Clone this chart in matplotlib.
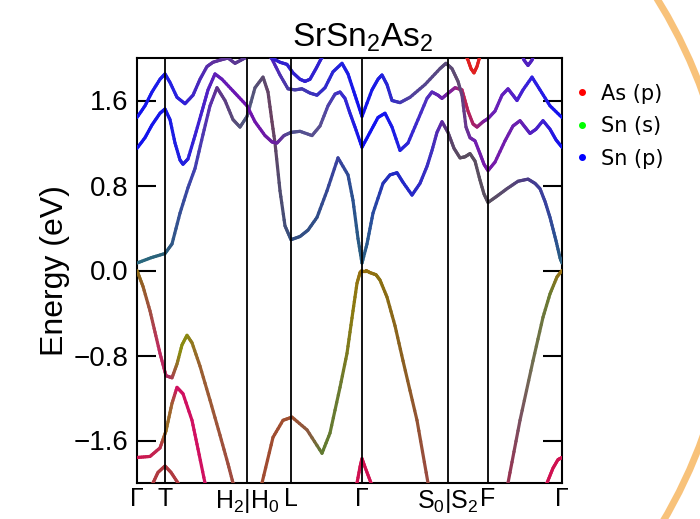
import numpy as np
import matplotlib.pyplot as plt
from matplotlib.collections import LineCollection
from matplotlib.colors import to_rgb
from matplotlib.lines import Line2D
from matplotlib.patches import Circle
from matplotlib.transforms import IdentityTransform

plt.rcParams['font.family'] = ['Liberation Sans', 'DejaVu Sans']
plt.rcParams['mathtext.fontset'] = 'custom'
plt.rcParams['mathtext.rm'] = 'Liberation Sans'
plt.rcParams['mathtext.it'] = 'Liberation Sans:italic'

# high symmetry points along the k-path
kpt_pos = [0.00, 0.28, 1.10, 1.54, 2.25, 3.11, 3.51, 4.25]
kpt_labels = ['Γ', 'T', 'H$_2$|H$_0$', 'L', 'Γ', 'S$_0$|S$_2$', 'F', 'Γ']

# conduction bands (k, E), plus colour stops (k, colour)
cb1_k = [0.00, 0.14, 0.28, 0.35, 0.43, 0.51, 0.58, 0.66, 0.73, 0.80, 0.88, 0.96, 1.03, 1.10, 1.18,
         1.26, 1.31, 1.35, 1.38, 1.43, 1.48, 1.54, 1.63, 1.71, 1.80, 1.90, 2.01, 2.11, 2.16, 2.21, 2.25,
         2.30, 2.36, 2.46, 2.53, 2.60, 2.66, 2.75, 2.83, 2.90, 2.95, 3.00, 3.05, 3.11, 3.17, 3.23, 3.28,
         3.33, 3.38, 3.43, 3.47, 3.51, 3.60, 3.70, 3.81, 3.91, 3.98, 4.03, 4.08, 4.13, 4.19, 4.23, 4.25]
cb1_e = [0.07, 0.12, 0.16, 0.25, 0.54, 0.78, 0.96, 1.28, 1.55, 1.72, 1.60, 1.42, 1.35, 1.45, 1.72,
         1.82, 1.68, 1.40, 1.20, 0.75, 0.42, 0.29, 0.32, 0.38, 0.50, 0.75, 1.06, 0.90, 0.66, 0.30, 0.07,
         0.25, 0.54, 0.82, 0.90, 0.92, 0.83, 0.71, 0.82, 0.98, 1.13, 1.30, 1.40, 1.30, 1.15, 1.06, 1.07,
         1.10, 1.03, 0.85, 0.72, 0.64, 0.70, 0.77, 0.84, 0.86, 0.82, 0.77, 0.65, 0.50, 0.28, 0.12, 0.07]
cb1_ck = [0.00, 0.28, 0.43, 0.58, 0.73, 0.80, 0.96, 1.10, 1.26, 1.35, 1.43, 1.54, 1.80, 2.01, 2.16,
          2.25, 2.30, 2.46, 2.60, 2.75, 2.95, 3.05, 3.11, 3.23, 3.51, 3.70, 3.91, 4.08, 4.19, 4.25]
cb1_cc = ['#2a6a80', '#2a6078', '#354f95', '#4040b0', '#5a30b0', '#603090', '#5a4a78', '#505a80',
          '#5a4a70', '#6a4060', '#504c70', '#355080', '#304e88', '#3a40a0', '#2a5090',
          '#2a6080', '#2a5a90', '#2535b5', '#2028c8', '#2528c8', '#4030c0', '#6028a8', '#5a4070',
          '#5a4c60', '#5a5060', '#5a4a70', '#4a3a88', '#3a40a0', '#2a5090', '#2a6080']

cb2_k = [0.00, 0.08, 0.15, 0.23, 0.28, 0.33, 0.38, 0.43, 0.46, 0.51, 0.58, 0.65, 0.71, 0.78, 0.85,
         0.98, 1.10, 1.18, 1.28, 1.35, 1.40, 1.47, 1.54, 1.63, 1.75, 1.83, 1.91, 1.98, 2.03, 2.08,
         2.13, 2.18, 2.25, 2.33, 2.41, 2.48, 2.55, 2.63, 2.71, 2.81, 2.90, 2.95, 3.01, 3.05, 3.10,
         3.18, 3.25, 3.31, 3.36, 3.40, 3.46, 3.51, 3.58, 3.65, 3.71, 3.76, 3.80, 3.86, 3.95, 4.03,
         4.13, 4.25]
cb2_e = [1.15, 1.25, 1.37, 1.48, 1.52, 1.42, 1.20, 1.04, 1.00, 1.05, 1.27, 1.50, 1.70, 1.85, 1.80,
         1.67, 1.55, 1.40, 1.27, 1.21, 1.20, 1.27, 1.30, 1.31, 1.27, 1.36, 1.55, 1.66, 1.68, 1.62,
         1.48, 1.35, 1.16, 1.30, 1.44, 1.48, 1.35, 1.13, 1.20, 1.42, 1.62, 1.68, 1.65, 1.62, 1.66,
         1.72, 1.70, 1.50, 1.38, 1.35, 1.40, 1.43, 1.50, 1.65, 1.71, 1.65, 1.60, 1.70, 1.82, 1.70,
         1.55, 1.44]
cb2_ck = [0.00, 0.28, 0.46, 0.63, 0.78, 1.10, 1.40, 1.54, 1.83, 2.03, 2.25, 2.48, 2.63, 2.90,
          3.05, 3.18, 3.28, 3.40, 3.51, 3.71, 3.95, 4.25]
cb2_cc = ['#1010f0', '#1818e8', '#2020e0', '#4020d0', '#6020b8', '#7010b0', '#6a20a0', '#505090',
          '#5a5090', '#4030c8', '#1010f0', '#1515f0', '#2020e0', '#5030c0', '#6a20b0', '#8a2090',
          '#c02050', '#a02070', '#7020b0', '#6020c0', '#3020e0', '#1010f0']

cb3_k = [0.00, 0.08, 0.15, 0.23, 0.28, 0.33, 0.40, 0.48, 0.56, 0.63, 0.70, 0.76, 0.83, 0.91, 0.98,
         1.04, 1.10, 1.21, 1.29, 1.35, 1.43, 1.51, 1.58, 1.65, 1.73, 1.80, 1.88, 1.96, 2.05, 2.11,
         2.18, 2.25, 2.35, 2.41, 2.45, 2.50, 2.55, 2.63, 2.73, 2.88, 3.03, 3.09, 3.15, 3.21, 3.25,
         3.29, 3.33, 3.38, 3.43, 3.47, 3.51, 3.58, 3.68, 3.76, 3.83, 3.88, 3.93, 3.99, 4.06, 4.13,
         4.19, 4.25]
cb3_e = [1.44, 1.55, 1.68, 1.80, 1.85, 1.77, 1.63, 1.57, 1.65, 1.80, 1.92, 1.96, 1.98, 2.00, 1.95,
         1.98, 2.01, 2.06, 2.06, 1.99, 1.84, 1.71, 1.70, 1.71, 1.67, 1.65, 1.72, 1.87, 1.95, 1.85,
         1.65, 1.45, 1.70, 1.80, 1.84, 1.75, 1.60, 1.58, 1.63, 1.75, 1.90, 1.95, 1.90, 1.78, 1.65,
         1.35, 1.25, 1.22, 1.10, 1.00, 0.94, 1.02, 1.22, 1.36, 1.41, 1.35, 1.29, 1.33, 1.41, 1.33,
         1.23, 1.16]
cb3_ck = [0.00, 0.28, 0.48, 0.76, 1.04, 1.35, 1.54, 1.80, 2.05, 2.25, 2.45, 2.73, 3.09, 3.21,
          3.38, 3.51, 3.83, 4.06, 4.25]
cb3_cc = ['#1010f0', '#2020e8', '#3020d8', '#6030a0', '#5a3a90', '#5020c0', '#4a40a0', '#3a30c0',
          '#2020e0', '#1010f0', '#2020e0', '#5040a0', '#5a4a7a', '#604a70', '#7020b0', '#7818a8',
          '#6a20b0', '#4020d0', '#1010f0']

# short band pieces that only touch the top of the window
cb4a_k = [1.29, 1.35, 1.43, 1.50, 1.56, 1.63, 1.68, 1.73, 1.79, 1.84, 1.89]
cb4a_e = [2.06, 2.00, 1.96, 1.94, 1.86, 1.80, 1.78, 1.80, 1.90, 1.99, 2.06]
cb4b_k = [3.27, 3.31, 3.34, 3.37, 3.40, 3.43, 3.45]
cb4b_e = [2.06, 1.98, 1.90, 1.86, 1.92, 2.02, 2.06]
cb4c_k = [3.84, 3.87, 3.91, 3.95, 3.98]
cb4c_e = [2.06, 1.98, 1.93, 1.98, 2.06]

# valence bands
vb1a_k = [0.00, 0.06, 0.13, 0.18, 0.23, 0.29, 0.35, 0.40, 0.45, 0.50, 0.55, 0.63, 0.73, 0.83,
          0.91, 0.96, 1.01]
vb1a_e = [0.00, -0.15, -0.38, -0.58, -0.78, -0.99, -1.01, -0.88, -0.70, -0.61, -0.68, -0.90,
          -1.22, -1.55, -1.82, -2.00, -2.17]
vb1a_ck = [0.00, 0.13, 0.23, 0.33, 0.43, 0.50, 0.63, 0.96]
vb1a_cc = ['#8a6a10', '#a05040', '#c02860', '#b02860', '#8a8a10', '#8a8a10', '#9a6030', '#a04a40']

vb1b_k = [1.18, 1.25, 1.36, 1.46, 1.55, 1.70, 1.85, 1.93, 2.03, 2.10, 2.16, 2.20, 2.23, 2.25,
          2.29, 2.33, 2.39, 2.43, 2.50, 2.58, 2.66, 2.80, 2.91, 2.95]
vb1b_e = [-2.30, -2.00, -1.57, -1.41, -1.38, -1.50, -1.72, -1.53, -1.10, -0.78, -0.38, -0.12,
          -0.02, 0.00, 0.00, -0.02, -0.04, -0.09, -0.25, -0.52, -0.85, -1.41, -2.00, -2.17]
vb1b_ck = [1.25, 1.55, 1.73, 1.85, 2.03, 2.16, 2.25, 2.43, 2.66, 2.91]
vb1b_cc = ['#a04a30', '#a05030', '#8a5a40', '#607a30', '#6a7a30', '#8a7a10', '#9a7010', '#8a7010',
           '#8a6020', '#9a4a40']

vb1c_k = [3.68, 3.71, 3.83, 3.96, 4.06, 4.13, 4.20, 4.25]
vb1c_e = [-2.15, -2.00, -1.41, -0.85, -0.44, -0.22, -0.06, 0.00]
vb1c_ck = [3.71, 3.83, 3.96, 4.13, 4.25]
vb1c_cc = ['#9a3050', '#7a5060', '#707050', '#6a7a30', '#9a7010']

vb2_k = [0.00, 0.13, 0.23, 0.29, 0.35, 0.40, 0.46, 0.55, 0.61, 0.68, 0.72]
vb2_e = [-1.76, -1.75, -1.67, -1.51, -1.25, -1.10, -1.16, -1.41, -1.68, -2.00, -2.15]
vb2_ck = [0.00, 0.23, 0.29, 0.35, 0.40, 0.72]
vb2_cc = ['#d01050', '#c02850', '#9a7020', '#a06030', '#d01060', '#d01060']

vb3a_k = [0.13, 0.16, 0.21, 0.28, 0.34, 0.41, 0.44]
vb3a_e = [-2.06, -2.00, -1.90, -1.84, -1.90, -2.00, -2.06]
vb3b_k = [2.16, 2.20, 2.23, 2.25, 2.28, 2.34, 2.37]
vb3b_e = [-2.06, -2.00, -1.85, -1.77, -1.85, -2.00, -2.06]
vb3c_k = [4.07, 4.10, 4.16, 4.21, 4.25]
vb3c_e = [-2.06, -2.00, -1.86, -1.78, -1.76]

legend_labels = ['As (p)', 'Sn (s)', 'Sn (p)']
legend_colors = ['#ff0000', '#00ff00', '#0000ff']


def draw_band(ax, k, e, ck, cc, lw=2.3):
    k = np.asarray(k, float)
    e = np.asarray(e, float)
    rgb = np.array([to_rgb(c) for c in cc])
    segs, cols = [], []
    for i in range(len(k) - 1):
        t = np.linspace(0, 1, 7)
        xs = k[i] + t * (k[i + 1] - k[i])
        ys = e[i] + t * (e[i + 1] - e[i])
        for j in range(len(t) - 1):
            segs.append([(xs[j], ys[j]), (xs[j + 1], ys[j + 1])])
            km = 0.5 * (xs[j] + xs[j + 1])
            cols.append([np.interp(km, ck, rgb[:, m]) for m in range(3)])
    lc = LineCollection(segs, colors=cols, linewidths=lw, capstyle='round', zorder=3)
    ax.add_collection(lc)


fig = plt.figure(figsize=(7, 5.19), dpi=100)
ax = fig.add_axes([137 / 700, 36 / 519, 425 / 700, 425 / 519])

bands = [
    (cb1_k, cb1_e, cb1_ck, cb1_cc),
    (cb2_k, cb2_e, cb2_ck, cb2_cc),
    (cb3_k, cb3_e, cb3_ck, cb3_cc),
    (cb4a_k, cb4a_e, [0, 5], ['#3020d0', '#3020d0']),
    (cb4b_k, cb4b_e, [0, 5], ['#e02020', '#e02020']),
    (cb4c_k, cb4c_e, [0, 5], ['#5020c0', '#5020c0']),
    (vb1a_k, vb1a_e, vb1a_ck, vb1a_cc),
    (vb1b_k, vb1b_e, vb1b_ck, vb1b_cc),
    (vb1c_k, vb1c_e, vb1c_ck, vb1c_cc),
    (vb2_k, vb2_e, vb2_ck, vb2_cc),
    (vb3a_k, vb3a_e, [0, 5], ['#b03a40', '#b03a40']),
    (vb3b_k, vb3b_e, [0, 5], ['#d01050', '#d01050']),
    (vb3c_k, vb3c_e, [0, 5], ['#d01050', '#d01050']),
]
for bk, be, ck, cc in bands:
    draw_band(ax, bk, be, ck, cc)

for kp in kpt_pos[1:-1]:
    ax.axvline(kp, color='black', lw=1.3, zorder=4)

ax.set_xlim(kpt_pos[0], kpt_pos[-1])
ax.set_ylim(-2.0, 2.0)
ax.set_xticks(kpt_pos)
ax.set_xticklabels(kpt_labels)
ax.set_yticks([-1.6, -0.8, 0.0, 0.8, 1.6])
ax.set_yticklabels(['\u22121.6', '\u22120.8', '0.0', '0.8', '1.6'])
ax.tick_params(axis='x', length=0, labelsize=18, pad=3)
ax.tick_params(axis='y', direction='in', length=14, width=1.5, right=True, labelsize=20, pad=6)
for sp in ax.spines.values():
    sp.set_linewidth(1.5)

ax.set_ylabel('Energy (eV)', fontsize=23, labelpad=3)
ax.set_title('SrSn$_2$As$_2$', fontsize=24, pad=8, x=0.53)

handles = [Line2D([], [], ls='none', marker='o', ms=4, color=c) for c in legend_colors]
fig.legend(handles, legend_labels, loc='upper left', bbox_to_anchor=(555 / 700, 1 - 65 / 519),
           frameon=False, prop={'family': 'DejaVu Sans', 'size': 15},
           handlelength=0.8, handletextpad=0.5, labelspacing=0.6)

# orange frame arc at the right edge of the screenshot
arc = Circle((228, 254), 505, transform=IdentityTransform(), fill=False,
             ec='#f8c27a', lw=5, zorder=0)
fig.add_artist(arc)

fig.savefig('out.png', dpi=100)
